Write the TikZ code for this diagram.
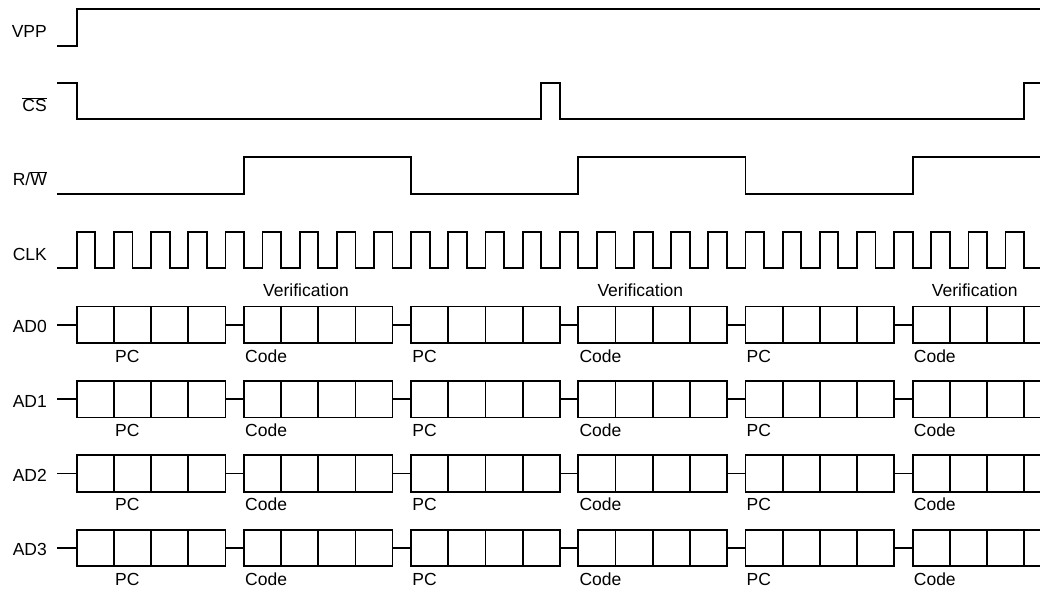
\documentclass[tikz,border=0pt]{standalone}
\usepackage{fontspec}
\setmainfont{Liberation Sans}
\begin{document}
\begin{tikzpicture}[x=1pt,y=-1pt,
  sig/.style={line width=1.8pt,line join=miter},
  lbl/.style={inner sep=0pt,anchor=base east,font=\fontsize{17.5}{20}\selectfont},
  txt/.style={inner sep=0pt,anchor=base west,font=\fontsize{17.5}{20}\selectfont}]
\useasboundingbox (0,0) rectangle (1040,591);
\clip (0,0) rectangle (1040,591);
\def\p{37.15}
\def\tz{76.8}
% labels
\node[lbl] (lvpp) at (47,37.3) {VPP};
\node[lbl] (lcs) at (47,111.7) {$\overline{\mbox{CS}}$};
\node[lbl] (lrw) at (47,185.7) {R/$\overline{\mbox{W}}$};
\node[lbl] (lclk) at (47,260) {CLK};
% VPP
\draw[sig] (57,46) -- (\tz,46) -- (\tz,9.3) -- (1045,9.3);
% CS
\draw[sig] (57,83.3) -- (\tz,83.3) -- (\tz,119.3)
  -- ({\tz+12.5*\p},119.3) -- ({\tz+12.5*\p},83.3)
  -- ({\tz+13*\p},83.3) -- ({\tz+13*\p},119.3)
  -- ({\tz+25.5*\p},119.3) -- ({\tz+25.5*\p},83.3) -- (1045,83.3);
% R/W
\draw[sig] (57,194) -- ({\tz+4.5*\p},194) -- ({\tz+4.5*\p},157.3)
  -- ({\tz+9*\p},157.3) -- ({\tz+9*\p},194)
  -- ({\tz+13.5*\p},194) -- ({\tz+13.5*\p},157.3)
  -- ({\tz+18*\p},157.3) -- ({\tz+18*\p},194)
  -- ({\tz+22.5*\p},194) -- ({\tz+22.5*\p},157.3) -- (1045,157.3);
% CLK
\draw[sig] (57,268.3) \foreach \k in {0,...,25}{
  -- ({\tz+\k*\p},268.3) -- ++(0,-36) -- ++({\p/2},0) -- ++(0,36) } -- (1045,268.3);
% Address/data rows
\foreach \r/\name in {0/AD0,1/AD1,2/AD2,3/AD3}{
  \pgfmathsetmacro{\top}{306.5+\r*74.4}
  \pgfmathsetmacro{\bot}{\top+36.5}
  \pgfmathsetmacro{\mid}{\top+18.25}
  \node[lbl] (l\name) at (47,{332.7+\r*74.4}) {\name};
  \draw[sig] (57,\mid) -- (\tz,\mid);
  \foreach \g in {0,...,5}{
    \pgfmathsetmacro{\sx}{\tz+\g*4.5*\p}
    \draw[sig] (\sx,\top) rectangle ({\sx+4*\p},\bot);
    \foreach \j in {1,2,3}{
      \draw[sig] ({\sx+\j*\p},\top) -- ({\sx+\j*\p},\bot);
    }
    \draw[sig] ({\sx+4*\p},\mid) -- ({\sx+4.5*\p},\mid);
  }
  % labels below
  \node[txt] (pc0\r) at ({\tz+\p+1},{\bot+19}) {PC};
  \node[txt] (cd1\r) at ({\tz+4.5*\p+1},{\bot+19}) {Code};
  \node[txt] (pc2\r) at ({\tz+9*\p+1},{\bot+19}) {PC};
  \node[txt] (cd3\r) at ({\tz+13.5*\p+1},{\bot+19}) {Code};
  \node[txt] (pc4\r) at ({\tz+18*\p+1},{\bot+19}) {PC};
  \node[txt] (cd5\r) at ({\tz+22.5*\p+1},{\bot+19}) {Code};
}
% Verification labels
\node[txt] (v1) at ({\tz+4.5*\p+19},296.7) {Verification};
\node[txt] (v2) at ({\tz+13.5*\p+19},296.7) {Verification};
\node[txt] (v3) at ({\tz+22.5*\p+19},296.7) {Verification};
\end{tikzpicture}
\end{document}
